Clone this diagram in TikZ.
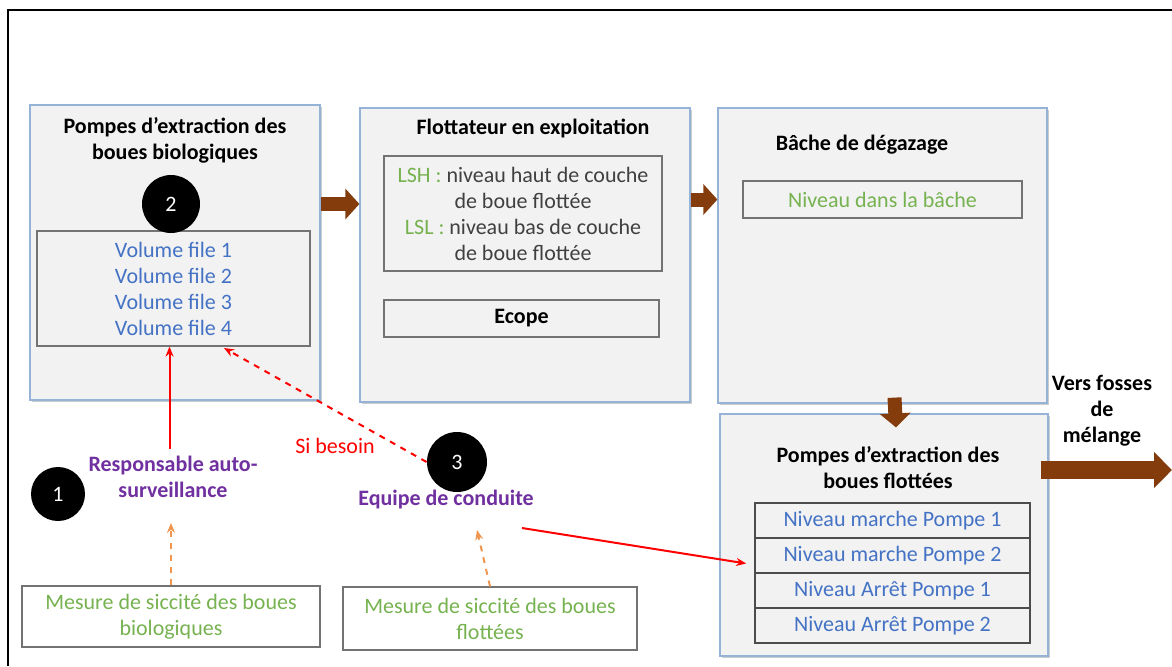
\documentclass[tikz,border=0pt]{standalone}
\usepackage{fontspec}
\setmainfont{Carlito}
\usetikzlibrary{arrows.meta,shadows,calc}
\definecolor{brn}{RGB}{132,60,12}
\definecolor{edgeblue}{RGB}{149,179,215}
\definecolor{lgreen}{RGB}{118,178,80}
\definecolor{vblue}{RGB}{68,114,196}
\definecolor{purp}{RGB}{112,48,160}
\definecolor{orng}{RGB}{240,150,80}
\definecolor{txtgray}{RGB}{64,64,64}

\begin{document}
\begin{tikzpicture}[x=0.5pt,y=-0.5pt,font=\fontsize{11}{13}\selectfont]
    \tikzstyle{bigbox}=[rectangle,draw=edgeblue,line width=0.6pt,fill=black!5,inner sep=0pt,drop shadow={shadow xshift=1.2pt,shadow yshift=-1.2pt,fill=black!40,opacity=0.5}]
    \tikzstyle{smallbox}=[rectangle,draw=black!55,line width=0.6pt,inner sep=0pt,align=center]
    \tikzstyle{lvlbox}=[smallbox,draw=black!70,line width=0.8pt,text=vblue,minimum width=137.5pt,minimum height=17.5pt]
    \tikzstyle{title}=[font=\fontsize{11}{13}\selectfont\bfseries,align=center]
    \tikzstyle{actor}=[title,text=purp]
    \tikzstyle{num}=[circle,fill=black,text=white,inner sep=0pt,minimum size=29pt]
    \tikzstyle{flow}=[draw=brn,line width=7pt,-{Triangle[length=7pt,width=15pt]}]
    \tikzstyle{order}=[draw=red,line width=1pt,-{Stealth[length=5pt,width=4pt]}]
    \tikzstyle{mesure}=[draw=orng,line width=1pt,dashed,-{Stealth[length=5pt,width=4pt]}]
    \useasboundingbox (0,0) rectangle (1172,666);
    \draw[line width=1pt] (8,666) -- (8,10) -- (1172,10);

    \node (boxA)[bigbox,minimum width=145pt,minimum height=147.5pt] at (175,252.5) {};
    \node (boxB)[bigbox,minimum width=165pt,minimum height=147pt]   at (525,255) {};
    \node (boxC)[bigbox,minimum width=164.5pt,minimum height=147.5pt] at (882.5,255.5) {};
    \node (boxD)[bigbox,minimum width=164pt,minimum height=121pt]   at (884,535) {};

    \node (tA)[title] at (175,140) {Pompes d’extraction des\\boues biologiques};
    \node (tB)[title] at (533,128) {Flottateur en exploitation};
    \node (tC)[title] at (862,145) {Bâche de dégazage};
    \node (tD)[title] at (888,468) {Pompes d’extraction des\\boues flottées};

    \node (vol)[smallbox,text=vblue,minimum width=136.5pt,minimum height=57.5pt] at (173.5,288.5)
        {Volume file 1\\Volume file 2\\Volume file 3\\Volume file 4};
    \node (c2)[num] at (171,204) {2};
    \node (lsh)[smallbox,text=txtgray,minimum width=139pt,minimum height=57.5pt] at (523,213.5)
        {{\color{lgreen}LSH :} niveau haut de couche\\de boue flottée\\{\color{lgreen}LSL :} niveau bas de couche\\de boue flottée};
    \node (ecope)[smallbox,font=\fontsize{11}{13}\selectfont\bfseries,minimum width=137.5pt,minimum height=18.5pt] at (521.5,318.5) {Ecope};
    \node (niv)[smallbox,text=lgreen,minimum width=139.5pt,minimum height=18.5pt] at (882.5,199.5) {Niveau dans la bâche};
    \node (p1)[lvlbox] at (892.5,520.5) {Niveau marche Pompe 1};
    \node (p2)[lvlbox] at (892.5,555.5) {Niveau marche Pompe 2};
    \node (p3)[lvlbox] at (892.5,590.5) {Niveau Arrêt Pompe 1};
    \node (p4)[lvlbox] at (892.5,625.5) {Niveau Arrêt Pompe 2};

    \node (vers)[title] at (1102,411) {Vers fosses\\de\\mélange};
    \coordinate (out) at (1172,470);

    \draw[flow] (boxA.east |- c2) -- (boxB.west |- c2);
    \draw[flow] (boxB.east |- niv) -- (boxC.west |- niv);
    \draw[flow] ($(boxC.south)+(12,-6)$) -- ($(boxD.north)+(12,14)$);
    \draw[flow,line width=9pt,-{Triangle[length=9pt,width=17.5pt]}] ($(boxD.east |- out)+(-8,0)$) -- (out);

    \node (c1)[num,minimum size=27pt] at (58,494) {1};
    \node (resp)[actor] at (173,477) {Responsable auto-\\surveillance};
    \node (c3)[num,minimum size=30pt] at (457,462) {3};
    \node (equipe)[actor] at (446,499) {Equipe de conduite};
    \node (besoin)[text=red] at (335,446) {Si besoin};

    \node (mesA)[smallbox,text=lgreen,minimum width=149pt,minimum height=30.5pt] at (171,616.5)
        {Mesure de siccité des boues\\biologiques};
    \node (mesB)[smallbox,text=lgreen,minimum width=147pt,minimum height=31.5pt] at (490,618.5)
        {Mesure de siccité des boues\\flottées};

    \coordinate (vs) at (224,348);
    \coordinate (eq) at (522,528);
    \coordinate (eqs) at (477,530);
    \draw[order] ($(resp.north -| vol.south)+(-4,0)$) -- ($(vol.south)+(-4,0)$);
    \draw[order,dashed] (c3.west) -- (vs);
    \draw[order] (eq) -- ($(p2.west)+(-8,8)$);
    \draw[mesure] (mesA.north) -- ($(mesA.north |- resp.south)+(0,18)$);
    \draw[mesure] (mesB.north) -- (eqs);
\end{tikzpicture}
\end{document}
